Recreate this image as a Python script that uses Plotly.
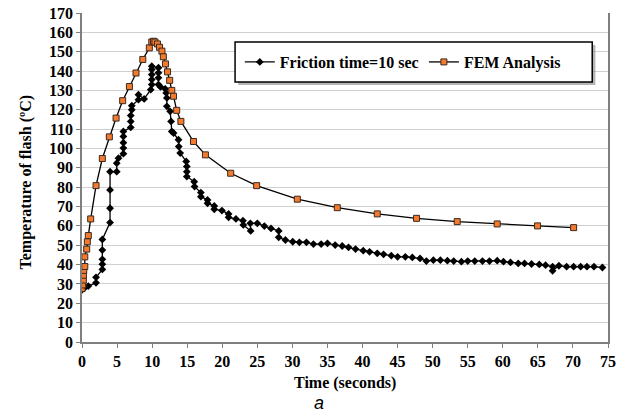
import plotly.graph_objects as go

# Friction time = 10 sec (experimental)
fric_time = [0, 0.43, 0.9, 2.0, 2.0, 2.9, 2.9, 2.9, 2.9, 2.9, 4.0, 4.0, 4.0, 4.0,
             4.95, 4.95, 5.2, 5.9, 5.9, 5.9, 5.9, 5.9, 6.95, 6.95, 6.95, 7.1, 7.1,
             8.05, 8.05, 8.86, 9.8, 9.95, 9.95, 9.95, 9.95, 9.95, 10.9, 10.9, 10.9,
             10.9, 11.2, 11.86, 12.0, 12.1, 12.1, 12.57, 12.7, 12.8, 13.05, 13.76,
             13.8, 14.0, 14.86, 14.95, 14.95, 14.95, 16.0, 16.05, 16.95, 16.95, 17.9,
             17.9, 18.86, 18.86, 19.95, 20.9, 20.9, 21.95, 22.95, 23.0, 24.05, 24.0,
             25.0, 26.0, 26.95, 28.05, 28.05, 29.0, 30.05, 31.0, 32.0, 33.0, 34.1,
             35.0, 36.1, 37.1, 38.0, 39.0, 40.1, 41.0, 42.1, 43.0, 44.1, 45.0, 46.1,
             47.1, 48.2, 49.1, 50.1, 51.1, 52.1, 53.0, 54.1, 55.0, 56.0, 57.1, 58.1,
             59.2, 60.1, 61.1, 62.2, 63.1, 64.1, 65.2, 66.1, 67.1, 67.1, 68.0, 69.1,
             70.1, 71.1, 72.0, 73.0, 74.2]
fric_temp = [27.0, 28.2, 28.9, 30.6, 33.4, 37.5, 40.2, 42.7, 47.5, 53.0, 61.7, 69.1,
             78.6, 88.0, 88.0, 92.4, 95.0, 97.3, 100.2, 103.0, 106.2, 108.8, 110.9,
             114.0, 117.0, 120.0, 122.1, 125.2, 127.8, 125.6, 130.4, 133.0, 135.6,
             138.2, 140.8, 142.5, 141.7, 139.1, 136.5, 133.0, 131.8, 130.8, 128.7,
             126.1, 121.8, 119.2, 114.0, 108.8, 108.0, 104.5, 101.0, 97.6, 93.3, 90.7,
             88.0, 85.5, 82.8, 80.3, 77.2, 75.1, 73.4, 71.7, 70.3, 68.6, 67.9, 66.2,
             64.4, 63.6, 62.7, 60.5, 57.4, 61.3, 61.3, 59.9, 58.7, 57.4, 54.1, 52.7,
             51.8, 51.5, 51.5, 50.6, 50.6, 51.0, 50.1, 49.6, 48.9, 48.0, 47.2, 46.6,
             45.8, 45.3, 44.6, 44.0, 44.0, 43.7, 43.2, 41.8, 42.3, 42.3, 42.0, 41.8,
             41.5, 41.8, 41.8, 41.8, 41.8, 42.0, 41.5, 41.1, 40.6, 40.6, 40.3, 40.1,
             39.7, 38.9, 36.8, 39.4, 38.9, 38.9, 38.9, 38.9, 38.9, 38.5]

# FEM analysis
fem_time = [0, 0.1, 0.2, 0.2, 0.25, 0.4, 0.4, 0.67, 0.76, 0.9, 1.24, 2.0, 2.9, 3.9,
            4.86, 5.8, 6.76, 7.7, 8.67, 9.6, 9.95, 10.2, 10.4, 10.76, 11.05, 11.4,
            11.6, 11.9, 12.2, 12.5, 12.8, 13.05, 13.5, 14.1, 15.9, 17.6, 21.2, 24.9,
            30.7, 36.4, 42.1, 47.7, 53.5, 59.2, 64.95, 70.1]
fem_temp = [27.6, 29.5, 32.0, 34.5, 37.0, 39.0, 44.0, 48.0, 51.8, 55.0, 63.6, 80.8,
            94.8, 106.0, 115.7, 124.7, 132.0, 139.0, 146.0, 152.0, 155.0, 155.4,
            155.0, 154.0, 152.3, 150.3, 147.4, 143.7, 139.6, 135.2, 130.0, 127.0,
            119.7, 114.0, 103.6, 96.7, 87.2, 80.8, 73.8, 69.4, 66.2, 63.9, 62.2,
            61.0, 60.0, 59.1]

x_ticks = list(range(0, 76, 5))
y_ticks = list(range(0, 171, 10))

SERIF = "Liberation Serif, Times New Roman, serif"

fig = go.Figure()
fig.add_trace(go.Scatter(
    x=fric_time, y=fric_temp, mode="lines+markers", name="<b>Friction time=10 sec</b>",
    line=dict(color="black", width=1.3),
    marker=dict(symbol="diamond", size=6, color="black"),
    legend="legend"))
fig.add_trace(go.Scatter(
    x=fem_time, y=fem_temp, mode="lines+markers", name="<b>FEM Analysis</b>",
    line=dict(color="black", width=1.3),
    marker=dict(symbol="square", size=6, color="#F47A2E",
                line=dict(color="#3a2a20", width=1)),
    legend="legend2"))

# legend frame with shadow
fig.add_shape(type="rect", xref="paper", yref="paper",
              x0=0.297, x1=0.976, y0=0.781, y1=0.903,
              fillcolor="rgba(120,120,120,0.55)", line=dict(width=0), layer="above")
fig.add_shape(type="rect", xref="paper", yref="paper",
              x0=0.291, x1=0.970, y0=0.790, y1=0.912,
              fillcolor="white", line=dict(color="black", width=1.5), layer="above")

fig.update_layout(
    width=626, height=415,
    margin=dict(l=82, r=18, t=13, b=73, autoexpand=False),
    paper_bgcolor="white", plot_bgcolor="white",
    font=dict(family=SERIF, color="black", size=16),
    showlegend=True,
    legend=dict(x=0.300, y=0.851, xanchor="left", yanchor="middle",
                bgcolor="rgba(0,0,0,0)", borderwidth=0,
                font=dict(family=SERIF, size=16, color="black")),
    legend2=dict(x=0.650, y=0.851, xanchor="left", yanchor="middle",
                 bgcolor="rgba(0,0,0,0)", borderwidth=0,
                 font=dict(family=SERIF, size=16, color="black")),
    xaxis=dict(range=[0, 75], tickvals=x_ticks, ticktext=[f"<b>{v}</b>" for v in x_ticks],
               showgrid=False, zeroline=False, showline=True, linecolor="#7f7f7f",
               linewidth=1.5, ticks="outside", ticklen=4, tickcolor="#7f7f7f",
               tickfont=dict(family=SERIF, size=16), automargin=False),
    yaxis=dict(range=[0, 170], tickvals=y_ticks, ticktext=[f"<b>{v}</b>" for v in y_ticks],
               showgrid=True, gridcolor="#d0d0d0", gridwidth=1.2, zeroline=False,
               showline=True, linecolor="#7f7f7f", linewidth=1.5, mirror=True,
               ticks="outside", ticklen=4, tickcolor="#7f7f7f",
               tickfont=dict(family=SERIF, size=16), automargin=False),
)

# axis titles
fig.add_annotation(text="<b>Time (seconds)</b>", xref="paper", yref="paper",
                   x=0.5, y=0, yshift=-41, xanchor="center", yanchor="middle",
                   showarrow=False, font=dict(family=SERIF, size=16, color="black"))
fig.add_annotation(text="<b>Temperature of flash (ºC)</b>", xref="paper", yref="paper",
                   x=0, xshift=-56, y=0.485, xanchor="center", yanchor="middle",
                   textangle=-90, showarrow=False,
                   font=dict(family=SERIF, size=16, color="black"))
fig.add_annotation(text="<i>a</i>", xref="paper", yref="paper", x=0.45, y=0,
                   yshift=-61, xanchor="center", yanchor="middle", showarrow=False,
                   font=dict(family="Liberation Sans, Arial, sans-serif", size=18,
                             color="black"))

# remove the browser's default page margin so the figure fills the window exactly
fig.write_html("out.html", config={"displayModeBar": False},
               post_script="document.body.style.margin='0';")
